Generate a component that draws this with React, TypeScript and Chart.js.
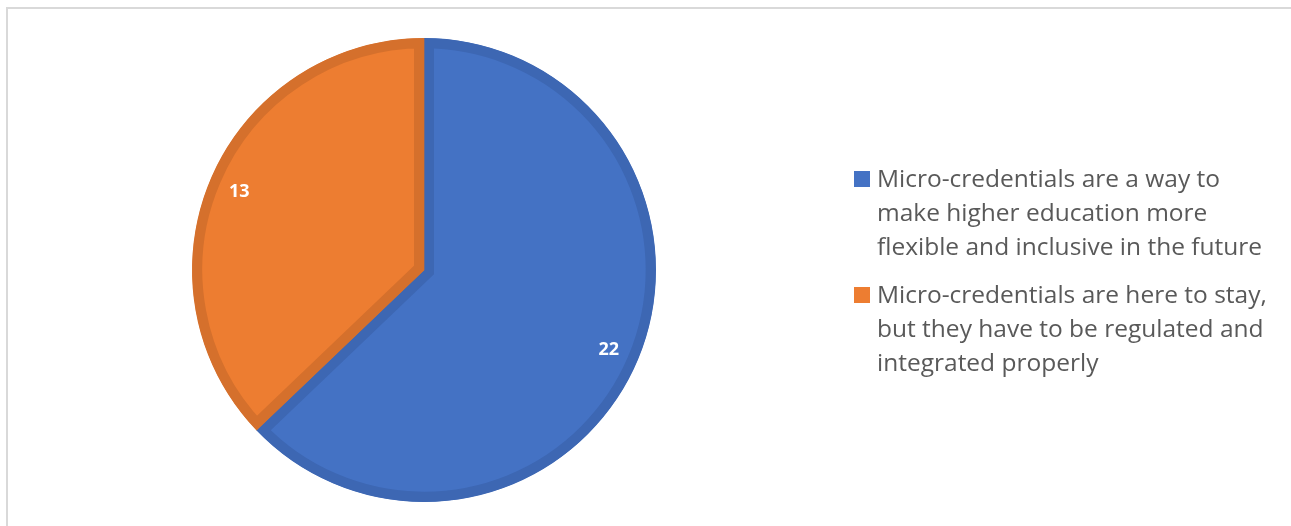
import React, { useEffect, useRef } from "react";
import { Chart, registerables } from "chart.js";

Chart.register(...registerables);

const categories: string[][] = [
  ["Micro-credentials are a way to", "make higher education more", "flexible and inclusive in the future"],
  ["Micro-credentials are here to stay,", "but they have to be regulated and", "integrated properly"],
];
const values: number[] = [22, 13];
const fillColors: string[] = ["#4472C4", "#ED7D31"];
const borderColors: string[] = ["#3D67B3", "#D5702C"];

const labelPlugin = {
  id: "sliceLabels",
  afterDatasetsDraw(chart: any) {
    const ctx = chart.ctx;
    const meta = chart.getDatasetMeta(0);
    ctx.save();
    ctx.fillStyle = "#FFFFFF";
    ctx.font = "bold 18px 'Open Sans', 'Liberation Sans', sans-serif";
    ctx.textAlign = "center";
    ctx.textBaseline = "middle";
    meta.data.forEach((arc: any, i: number) => {
      const p = arc.getProps(["x", "y", "startAngle", "endAngle", "outerRadius"], true);
      const mid = (p.startAngle + p.endAngle) / 2;
      const r = p.outerRadius - 31;
      ctx.fillText(String(values[i]), p.x + Math.cos(mid) * r, p.y + Math.sin(mid) * r + 1);
    });
    ctx.restore();
  },
};

const legendPlugin = {
  id: "wrappedLegend",
  afterDraw(chart: any) {
    const ctx = chart.ctx;
    ctx.save();
    ctx.font = "24.5px 'Open Sans', 'Liberation Sans', sans-serif";
    ctx.textBaseline = "middle";
    ctx.textAlign = "left";
    const x0 = 854;
    const tx = 877;
    const lineH = 34;
    const starts = [179, 295];
    categories.forEach((lines, i) => {
      const y = starts[i];
      ctx.fillStyle = fillColors[i];
      ctx.fillRect(x0, y - 8, 16, 16);
      ctx.fillStyle = "#595959";
      lines.forEach((ln, j) => ctx.fillText(ln, tx, y + 1 + j * lineH));
    });
    ctx.restore();
  },
};

export default function App() {
  const ref = useRef<HTMLCanvasElement | null>(null);
  useEffect(() => {
    document.body.style.margin = "0";
    const chart = new Chart(ref.current!, {
      type: "pie",
      data: {
        labels: categories.map((c) => c.join(" ")),
        datasets: [
          {
            data: values,
            backgroundColor: fillColors,
            borderColor: borderColors,
            borderWidth: 10,
            borderAlign: "inner",
            borderJoinStyle: "miter",
          } as any,
        ],
      },
      options: {
        responsive: false,
        animation: false,
        layout: { padding: { left: 192, right: 635, top: 38, bottom: 24 } },
        plugins: { legend: { display: false }, tooltip: { enabled: false } },
      },
      plugins: [labelPlugin, legendPlugin],
    });
    return () => chart.destroy();
  }, []);
  return (
    <div style={{ position: "relative", width: 1291, height: 526, overflow: "hidden", background: "#fff" }}>
      <div
        style={{
          position: "absolute",
          left: 6,
          top: 7,
          width: 1300,
          height: 540,
          border: "2px solid #D9D9D9",
          boxSizing: "border-box",
        }}
      />
      <canvas ref={ref} width={1291} height={526} style={{ position: "absolute", left: 0, top: 0 }} />
    </div>
  );
}
